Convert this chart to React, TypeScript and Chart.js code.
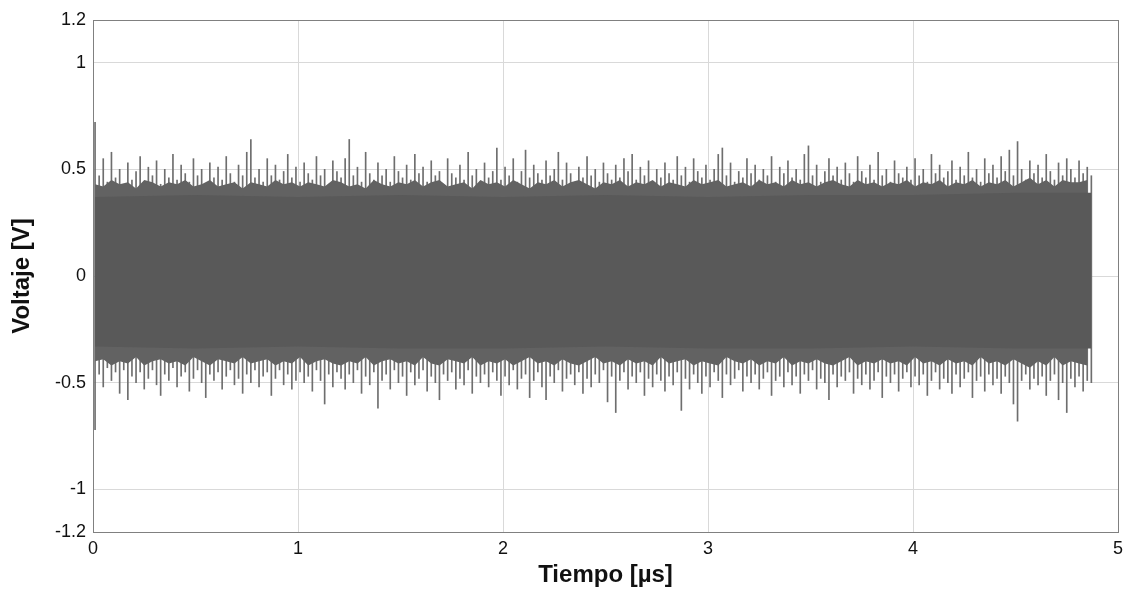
import React, { useEffect, useRef } from "react";
import { Chart, registerables } from "chart.js";

Chart.register(...registerables);

// Time axis (µs): first sample time and sampling intervals
const FIRST_SAMPLE_US = 0.01;
const SAMPLE_STEP_US = 0.02;
const FRINGE_STEP_US = 0.04;

// Per-bin maximum voltage (V)
const peakHigh = [
  0.72, 0.47, 0.55, 0.44, 0.58, 0.46, 0.50, 0.43, 0.53, 0.45,
  0.49, 0.56, 0.44, 0.51, 0.47, 0.54, 0.43, 0.50, 0.46, 0.57,
  0.45, 0.52, 0.48, 0.44, 0.55, 0.47, 0.50, 0.43, 0.53, 0.46,
  0.51, 0.45, 0.56, 0.48, 0.44, 0.52, 0.47, 0.58, 0.64, 0.46,
  0.50, 0.44, 0.55, 0.47, 0.52, 0.45, 0.49, 0.57, 0.46, 0.51,
  0.44, 0.53, 0.48, 0.45, 0.56, 0.47, 0.50, 0.43, 0.54, 0.49,
  0.46, 0.55, 0.64, 0.47, 0.51, 0.44, 0.58, 0.48, 0.45, 0.53,
  0.47, 0.50, 0.44, 0.56, 0.49, 0.46, 0.52, 0.45, 0.57, 0.48,
  0.51, 0.44, 0.54, 0.47, 0.49, 0.43, 0.55, 0.48, 0.46, 0.52,
  0.45, 0.58, 0.47, 0.50, 0.44, 0.53, 0.46, 0.49, 0.60, 0.45,
  0.51, 0.47, 0.55, 0.44, 0.49, 0.59, 0.46, 0.52, 0.48, 0.45,
  0.54, 0.47, 0.50, 0.58, 0.45, 0.53, 0.48, 0.44, 0.51, 0.46,
  0.56, 0.47, 0.50, 0.44, 0.53, 0.48, 0.45, 0.52, 0.46, 0.55,
  0.49, 0.57, 0.45, 0.51, 0.47, 0.54, 0.44, 0.50, 0.46, 0.53,
  0.48, 0.45, 0.56, 0.47, 0.51, 0.44, 0.55, 0.49, 0.46, 0.52,
  0.45, 0.50, 0.57, 0.60, 0.47, 0.53, 0.44, 0.49, 0.46, 0.55,
  0.48, 0.52, 0.45, 0.50, 0.47, 0.56, 0.44, 0.51, 0.48, 0.54,
  0.46, 0.50, 0.45, 0.57, 0.61, 0.47, 0.52, 0.44, 0.49, 0.55,
  0.47, 0.51, 0.45, 0.53, 0.48, 0.44, 0.56, 0.49, 0.46, 0.52,
  0.45, 0.58, 0.47, 0.50, 0.44, 0.54, 0.48, 0.46, 0.51, 0.45,
  0.55, 0.47, 0.50, 0.44, 0.57, 0.48, 0.52, 0.46, 0.49, 0.54,
  0.45, 0.51, 0.47, 0.58, 0.46, 0.50, 0.44, 0.55, 0.48, 0.52,
  0.46, 0.56, 0.49, 0.59, 0.47, 0.63, 0.50, 0.45, 0.54, 0.48,
  0.52, 0.46, 0.57, 0.49, 0.45, 0.53, 0.47, 0.55, 0.50, 0.46,
  0.54, 0.48, 0.51, 0.47,
];

// Per-bin minimum voltage (V)
const peakLow = [
  -0.72, -0.46, -0.52, -0.43, -0.49, -0.45, -0.55, -0.44, -0.58, -0.47,
  -0.50, -0.45, -0.53, -0.48, -0.44, -0.51, -0.56, -0.46, -0.49, -0.43,
  -0.52, -0.47, -0.45, -0.54, -0.48, -0.44, -0.50, -0.57, -0.46, -0.49,
  -0.45, -0.53, -0.47, -0.44, -0.51, -0.48, -0.55, -0.46, -0.50, -0.44,
  -0.52, -0.47, -0.45, -0.56, -0.48, -0.44, -0.51, -0.46, -0.53, -0.49,
  -0.45, -0.50, -0.47, -0.54, -0.44, -0.49, -0.60, -0.46, -0.52, -0.45,
  -0.48, -0.53, -0.46, -0.50, -0.44, -0.55, -0.47, -0.51, -0.45, -0.62,
  -0.49, -0.46, -0.53, -0.44, -0.50, -0.47, -0.56, -0.45, -0.51, -0.48,
  -0.44, -0.54, -0.47, -0.50, -0.58, -0.46, -0.49, -0.45, -0.53, -0.48,
  -0.51, -0.44, -0.55, -0.47, -0.50, -0.46, -0.52, -0.45, -0.49, -0.56,
  -0.47, -0.51, -0.44, -0.53, -0.48, -0.46, -0.57, -0.49, -0.45, -0.52,
  -0.58, -0.47, -0.50, -0.44, -0.54, -0.48, -0.46, -0.51, -0.45, -0.55,
  -0.48, -0.52, -0.46, -0.50, -0.44, -0.59, -0.47, -0.64, -0.49, -0.45,
  -0.53, -0.47, -0.50, -0.45, -0.56, -0.48, -0.52, -0.46, -0.49, -0.54,
  -0.47, -0.51, -0.45, -0.63, -0.48, -0.53, -0.46, -0.50, -0.55, -0.47,
  -0.52, -0.45, -0.49, -0.57, -0.46, -0.51, -0.48, -0.44, -0.54, -0.47,
  -0.50, -0.46, -0.53, -0.48, -0.45, -0.56, -0.49, -0.47, -0.52, -0.45,
  -0.51, -0.47, -0.55, -0.46, -0.49, -0.44, -0.53, -0.48, -0.50, -0.58,
  -0.46, -0.52, -0.47, -0.49, -0.45, -0.55, -0.48, -0.51, -0.46, -0.53,
  -0.49, -0.45, -0.57, -0.47, -0.50, -0.46, -0.54, -0.48, -0.45, -0.52,
  -0.47, -0.51, -0.46, -0.56, -0.49, -0.45, -0.53, -0.48, -0.50, -0.55,
  -0.46, -0.52, -0.48, -0.45, -0.57, -0.49, -0.47, -0.54, -0.46, -0.51,
  -0.48, -0.55, -0.47, -0.50, -0.60, -0.68, -0.49, -0.46, -0.53, -0.48,
  -0.51, -0.47, -0.56, -0.49, -0.46, -0.58, -0.50, -0.64, -0.48, -0.52,
  -0.47, -0.54, -0.49, -0.50,
];

// Dense grey fringe just outside the solid core (V)
const fringeHigh = [
  0.43, 0.42, 0.45, 0.43, 0.44, 0.41, 0.45, 0.44, 0.42, 0.44,
  0.43, 0.45, 0.42, 0.43, 0.45, 0.42, 0.43, 0.44, 0.41, 0.44,
  0.43, 0.42, 0.45, 0.43, 0.44, 0.42, 0.44, 0.43, 0.42, 0.45,
  0.44, 0.42, 0.43, 0.41, 0.45, 0.43, 0.42, 0.44, 0.43, 0.45,
  0.42, 0.44, 0.45, 0.42, 0.43, 0.44, 0.41, 0.45, 0.43, 0.44,
  0.42, 0.45, 0.43, 0.41, 0.44, 0.43, 0.45, 0.42, 0.44, 0.45,
  0.43, 0.41, 0.44, 0.43, 0.45, 0.42, 0.44, 0.43, 0.45, 0.42,
  0.44, 0.43, 0.42, 0.45, 0.43, 0.44, 0.45, 0.42, 0.43, 0.44,
  0.42, 0.45, 0.43, 0.44, 0.42, 0.45, 0.43, 0.44, 0.42, 0.44,
  0.45, 0.43, 0.42, 0.45, 0.43, 0.44, 0.42, 0.44, 0.43, 0.45,
  0.42, 0.44, 0.43, 0.45, 0.42, 0.44, 0.43, 0.45, 0.42, 0.44,
  0.43, 0.45, 0.42, 0.44, 0.46, 0.43, 0.45, 0.42, 0.45, 0.44,
  0.44, 0.45,
];
const fringeLow = [
  -0.40, -0.39, -0.42, -0.40, -0.41, -0.38, -0.42, -0.40, -0.39, -0.41,
  -0.40, -0.42, -0.38, -0.40, -0.42, -0.39, -0.40, -0.41, -0.38, -0.41,
  -0.40, -0.39, -0.42, -0.40, -0.41, -0.38, -0.42, -0.40, -0.39, -0.41,
  -0.42, -0.40, -0.41, -0.38, -0.42, -0.40, -0.39, -0.41, -0.40, -0.42,
  -0.38, -0.41, -0.42, -0.39, -0.40, -0.41, -0.38, -0.42, -0.40, -0.41,
  -0.39, -0.42, -0.40, -0.38, -0.41, -0.40, -0.42, -0.39, -0.41, -0.42,
  -0.40, -0.38, -0.41, -0.40, -0.42, -0.39, -0.41, -0.40, -0.42, -0.38,
  -0.41, -0.40, -0.39, -0.42, -0.40, -0.41, -0.42, -0.38, -0.40, -0.41,
  -0.39, -0.42, -0.40, -0.41, -0.38, -0.42, -0.40, -0.41, -0.39, -0.41,
  -0.42, -0.40, -0.38, -0.42, -0.40, -0.41, -0.39, -0.41, -0.40, -0.42,
  -0.38, -0.41, -0.40, -0.42, -0.39, -0.41, -0.40, -0.42, -0.38, -0.41,
  -0.40, -0.42, -0.39, -0.41, -0.43, -0.40, -0.42, -0.38, -0.42, -0.40,
  -0.41, -0.42,
];

// Solid core of the signal band (V)
const coreTimes = [0.01, 0.5, 1, 1.5, 2, 2.5, 3, 3.5, 4, 4.5, 4.87];
const coreHigh = [0.37, 0.38, 0.37, 0.38, 0.37, 0.38, 0.37, 0.38, 0.38, 0.39, 0.39];
const coreLow = [-0.33, -0.34, -0.33, -0.34, -0.34, -0.33, -0.34, -0.34, -0.33, -0.34, -0.34];

const yTicks = [1.2, 1, 0.5, 0, -0.5, -1, -1.2];
const xTicks = [0, 1, 2, 3, 4, 5];

const FONT = "'Liberation Sans', Arial, sans-serif";
const GRID = "#d9d9d9";
const FRAME = "#808080";

export default function App() {
  const ref = useRef<HTMLCanvasElement>(null);

  useEffect(() => {
    document.body.style.margin = "0";
    const canvas = ref.current;
    if (!canvas) return;

    const bars = peakHigh.map((h, i) => ({
      x: +(FIRST_SAMPLE_US + i * SAMPLE_STEP_US).toFixed(3),
      y: [peakLow[i], h],
    }));
    const fringeTop = fringeHigh.map((v, i) => ({
      x: +(FIRST_SAMPLE_US + i * FRINGE_STEP_US).toFixed(3),
      y: v,
    }));
    const fringeBottom = fringeLow.map((v, i) => ({
      x: +(FIRST_SAMPLE_US + i * FRINGE_STEP_US).toFixed(3),
      y: v,
    }));
    const coreTop = coreTimes.map((t, i) => ({ x: t, y: coreHigh[i] }));
    const coreBottom = coreTimes.map((t, i) => ({ x: t, y: coreLow[i] }));

    const lineBase = {
      type: "line",
      borderWidth: 0,
      pointRadius: 0,
      tension: 0,
    };

    const chart = new Chart(canvas, {
      type: "bar",
      data: {
        datasets: [
          {
            ...lineBase,
            data: coreTop as any,
            backgroundColor: "#595959",
            borderColor: "#595959",
            fill: "+1",
            order: 0,
          } as any,
          {
            ...lineBase,
            data: coreBottom as any,
            backgroundColor: "#595959",
            borderColor: "#595959",
            fill: false,
            order: 0,
          } as any,
          {
            ...lineBase,
            data: fringeTop as any,
            backgroundColor: "#626262",
            borderColor: "#626262",
            fill: "+1",
            order: 1,
          } as any,
          {
            ...lineBase,
            data: fringeBottom as any,
            backgroundColor: "#626262",
            borderColor: "#626262",
            fill: false,
            order: 1,
          } as any,
          {
            type: "bar",
            data: bars as any,
            backgroundColor: "#6e6e6e",
            borderWidth: 0,
            barThickness: 1,
            grouped: false,
            order: 2,
          } as any,
        ],
      },
      options: {
        responsive: false,
        animation: false,
        events: [],
        layout: { padding: { top: 20, right: 9, bottom: 0, left: 0 } },
        plugins: {
          legend: { display: false },
          tooltip: { enabled: false },
        },
        scales: {
          x: {
            type: "linear",
            min: 0,
            max: 5,
            offset: false,
            afterFit: (s: any) => {
              s.height = 64;
              s.paddingRight = 0;
              s.paddingLeft = 0;
            },
            afterBuildTicks: (s: any) => {
              s.ticks = xTicks.map((v) => ({ value: v }));
            },
            grid: {
              offset: false,
              drawTicks: false,
              color: (c: any) =>
                c.tick && (c.tick.value === 0 || c.tick.value === 5) ? FRAME : GRID,
            },
            border: { color: FRAME, width: 1 },
            ticks: {
              padding: 6,
              color: "#111",
              font: { family: FONT, size: 18 },
              maxRotation: 0,
            },
            title: {
              display: true,
              text: "Tiempo [µs]",
              color: "#111",
              font: { family: FONT, size: 24, weight: "bold" },
              padding: { top: 0, bottom: 6 },
            },
          },
          y: {
            type: "linear",
            min: -1.2,
            max: 1.2,
            afterFit: (s: any) => {
              s.width = 93;
            },
            afterBuildTicks: (s: any) => {
              s.ticks = yTicks.map((v) => ({ value: v }));
            },
            grid: {
              drawTicks: false,
              color: (c: any) =>
                c.tick && (c.tick.value === 1.2 || c.tick.value === -1.2) ? FRAME : GRID,
            },
            border: { color: FRAME, width: 1 },
            ticks: {
              padding: 7,
              color: "#111",
              font: { family: FONT, size: 18 },
              callback: (v: any) => String(v),
            },
            title: {
              display: true,
              text: "Voltaje [V]",
              color: "#111",
              font: { family: FONT, size: 24, weight: "bold" },
              padding: { top: 8, bottom: 0 },
            },
          },
        },
      },
    });

    return () => chart.destroy();
  }, []);

  return (
    <div style={{ width: 1127, height: 596 }}>
      <canvas ref={ref} width={1127} height={596} />
    </div>
  );
}
